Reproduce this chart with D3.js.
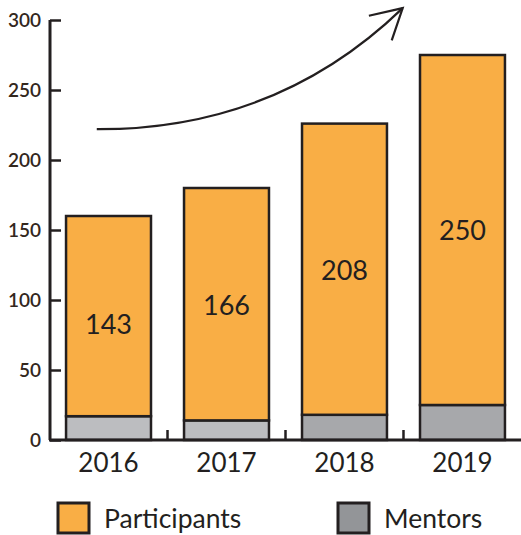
<!DOCTYPE html>
<html lang="en">
<head>
<meta charset="UTF-8">
<title>Participants and Mentors</title>
<style>
  body { margin: 0; background: #fff; }
  text { font-family: "Lato", "Noto Sans", sans-serif; fill: #231F20; }
</style>
</head>
<body>
<script src="https://d3js.org/d3.v7.min.js"></script>
<script>
    // data
    const years = ["2016", "2017", "2018", "2019"];
    const participants = [143, 166, 208, 250];
    const mentors = [17, 14, 18, 25];
    const mentorFills = ["#BCBDC0", "#BCBDC0", "#A7A8AB", "#A7A8AB"];
    const yTicks = [0, 50, 100, 150, 200, 250, 300];
    const seriesNames = ["Participants", "Mentors"];
    const seriesColors = ["#F9AE45", "#939598"];

    const W = 521, H = 535;
    const ink = "#231F20";

    const svg = d3.select("body").append("svg")
        .attr("width", W)
        .attr("height", H);

    // scales
    const x = d3.scaleBand()
        .domain(years)
        .range([50, 521])
        .paddingInner(0.28)
        .paddingOuter(0.136);
    const y = d3.scaleLinear()
        .domain([0, 300])
        .range([440, 20]);

    const rows = years.map((yr, i) => ({
        year: yr, p: participants[i], m: mentors[i], mFill: mentorFills[i]
    }));

    // mentors (bottom part)
    svg.selectAll(".mentor")
        .data(rows)
        .enter().append("rect")
        .attr("class", "mentor")
        .attr("x", d => x(d.year))
        .attr("y", d => y(d.m))
        .attr("width", x.bandwidth())
        .attr("height", d => y(0) - y(d.m))
        .attr("fill", d => d.mFill)
        .attr("stroke", ink)
        .attr("stroke-width", 2.5);

    // participants (stacked on top)
    svg.selectAll(".part")
        .data(rows)
        .enter().append("rect")
        .attr("class", "part")
        .attr("x", d => x(d.year))
        .attr("y", d => y(d.m + d.p))
        .attr("width", x.bandwidth())
        .attr("height", d => y(d.m) - y(d.m + d.p))
        .attr("fill", seriesColors[0])
        .attr("stroke", ink)
        .attr("stroke-width", 2.5);

    // value labels
    svg.selectAll(".val")
        .data(rows)
        .enter().append("text")
        .attr("class", "val")
        .attr("x", d => x(d.year) + x.bandwidth() / 2)
        .attr("y", d => (y(d.m) + y(d.m + d.p)) / 2 + (d.year === "2016" ? 8 : 1))
        .attr("dy", "0.35em")
        .attr("text-anchor", "middle")
        .style("font-size", "27px")
        .text(d => d.p);

    // y axis
    const yAxis = svg.append("g")
        .attr("transform", "translate(50,0)")
        .call(d3.axisRight(y).tickValues(yTicks).tickSize(11).tickFormat(""));
    yAxis.select(".domain").remove();
    yAxis.selectAll(".tick line").attr("stroke", ink).attr("stroke-width", 2.5);
    svg.append("line")
        .attr("x1", 50).attr("x2", 50)
        .attr("y1", y(300)).attr("y2", y(0))
        .attr("stroke", ink).attr("stroke-width", 3);
    svg.selectAll(".ylab")
        .data(yTicks)
        .enter().append("text")
        .attr("class", "ylab")
        .attr("x", 41)
        .attr("y", d => y(d))
        .attr("dy", "0.35em")
        .attr("text-anchor", "end")
        .style("font-size", "19px")
        .style("font-weight", "600")
        .style("fill", "#33271D")
        .text(d => d);

    // baseline with small ticks between bars
    svg.append("line")
        .attr("x1", 49).attr("x2", 521)
        .attr("y1", y(0)).attr("y2", y(0))
        .attr("stroke", ink).attr("stroke-width", 3);
    const mids = years.slice(1).map(yr => x(yr) - x.step() * x.paddingInner() / 2);
    svg.selectAll(".xtick")
        .data(mids)
        .enter().append("line")
        .attr("class", "xtick")
        .attr("x1", d => d).attr("x2", d => d)
        .attr("y1", y(0)).attr("y2", y(0) - 10)
        .attr("stroke", ink).attr("stroke-width", 2.5);

    // year labels
    svg.selectAll(".year")
        .data(years)
        .enter().append("text")
        .attr("class", "year")
        .attr("x", d => x(d) + x.bandwidth() / 2)
        .attr("y", 463)
        .attr("dy", "0.35em")
        .attr("text-anchor", "middle")
        .style("font-size", "26px")
        .text(d => d);

    // growth arrow, placed in data space
    const ax = d3.scaleLinear().domain([0, 1]).range([x("2016"), x("2019") + x.bandwidth()]);
    const p0 = [ax(0.07), y(222)], c = [ax(0.48), y(221.5)], p1 = [ax(0.767), y(308.5)];
    svg.append("path")
        .attr("d", `M${p0[0]},${p0[1]} Q${c[0]},${c[1]} ${p1[0]},${p1[1]}`)
        .attr("fill", "none")
        .attr("stroke", ink)
        .attr("stroke-width", 2.2);
    svg.append("path")
        .attr("d", `M${ax(0.69)},${y(303)} L${p1[0]},${p1[1]} L${ax(0.742)},${y(285.5)}`)
        .attr("fill", "none")
        .attr("stroke", ink)
        .attr("stroke-width", 2.2);

    // legend
    const legX = [58, 338];
    const leg = svg.selectAll(".leg")
        .data(seriesNames)
        .enter().append("g")
        .attr("class", "leg")
        .attr("transform", (d, i) => `translate(${legX[i]},503)`);
    leg.append("rect")
        .attr("width", 31).attr("height", 30)
        .attr("fill", (d, i) => seriesColors[i])
        .attr("stroke", ink)
        .attr("stroke-width", 3);
    leg.append("text")
        .attr("x", 46)
        .attr("y", 16)
        .attr("dy", "0.35em")
        .style("font-size", "26.5px")
        .text(d => d);
</script>
</body>
</html>
